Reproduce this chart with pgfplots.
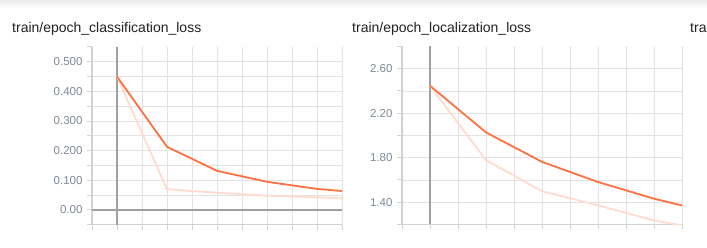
\documentclass[border=0pt]{standalone}
\usepackage{fontspec}
\setmainfont{Liberation Sans}
\usepackage{pgfplots}
\pgfplotsset{compat=1.18}
\definecolor{tbOrange}{HTML}{FF7043}
\definecolor{tbLight}{HTML}{FFDBD0}
\definecolor{gridC}{HTML}{E3E3E3}
\definecolor{axisC}{HTML}{D2D2D2}
\definecolor{zeroC}{HTML}{A0A0A0}
\definecolor{lblC}{HTML}{808A98}
\definecolor{titleC}{HTML}{212121}
\pgfplotsset{tbstyle/.style={
  scale only axis,
  anchor=south west,
  xmin=-1, xmax=9,
  axis x line=bottom, axis y line=left,
  axis line style={-, axisC, line width=1.2pt},
  xtick={-1,0,...,9}, xticklabels={},
  grid=major,
  grid style={gridC, line width=0.9pt},
  tick style={axisC, line width=1pt},
  tick align=outside,
  major tick length=5pt,
  yticklabel style={font=\fontsize{11.5}{11.5}\selectfont, text=lblC, xshift=-1pt},
  extra tick style={grid=none, tick style={axisC, line width=1pt}},
  clip=true,
}}
\begin{document}
\begin{tikzpicture}
\fill[white] (0pt,0pt) rectangle (707pt,248pt);
\shade[top color=black!8, bottom color=white] (0pt,240pt) rectangle (707pt,248pt);
\path[use as bounding box] (0pt,0pt) rectangle (707pt,248pt);
\node[anchor=base west, inner sep=0pt, text=titleC, font=\fontsize{14}{14}\selectfont] at (12pt,215.7pt) {train/epoch\_classification\_loss};
\node[anchor=base west, inner sep=0pt, text=titleC, font=\fontsize{14}{14}\selectfont] at (352pt,215.7pt) {train/epoch\_localization\_loss};
\node[anchor=base west, inner sep=0pt, text=titleC, font=\fontsize{14}{14}\selectfont] at (690pt,215.7pt) {tra};
\begin{axis}[tbstyle, at={(92pt,23.2pt)}, width=250pt, height=177.9pt,
  ymin=-0.05, ymax=0.55,
  ytick={-0.05,0,0.05,0.1,0.15,0.2,0.25,0.3,0.35,0.4,0.45,0.5},
  yticklabels={,0.00,,0.100,,0.200,,0.300,,0.400,,0.500},
  extra y ticks={0.55}, extra y tick labels={}]
\draw[zeroC, line width=1.6pt] (axis cs:-1,0) -- (axis cs:9,0);
\draw[zeroC, line width=2pt] (axis cs:0,-0.05) -- (axis cs:0,0.55);
\addplot[tbLight, line width=1.8pt] coordinates {(0,0.450)(2,0.070)(4,0.058)(6,0.048)(8,0.043)(10,0.035)};
\addplot[tbOrange, line width=1.8pt] coordinates {(0,0.450)(2,0.213)(4,0.132)(6,0.095)(8,0.071)(10,0.057)};
\end{axis}
\begin{axis}[tbstyle, at={(402pt,23.5pt)}, width=280pt, height=178pt,
  ymin=1.2, ymax=2.8,
  ytick={1.2,1.4,1.6,1.8,2.0,2.2,2.4,2.6},
  yticklabels={,1.40,,1.80,,2.20,,2.60},
  extra y ticks={2.8}, extra y tick labels={}]
\draw[zeroC, line width=2pt] (axis cs:0,1.2) -- (axis cs:0,2.8);
\addplot[tbLight, line width=1.8pt] coordinates {(0,2.447)(2,1.778)(4,1.500)(6,1.372)(8,1.237)(10,1.145)};
\addplot[tbOrange, line width=1.8pt] coordinates {(0,2.447)(2,2.028)(4,1.763)(6,1.582)(8,1.432)(10,1.310)};
\end{axis}
\end{tikzpicture}
\end{document}
